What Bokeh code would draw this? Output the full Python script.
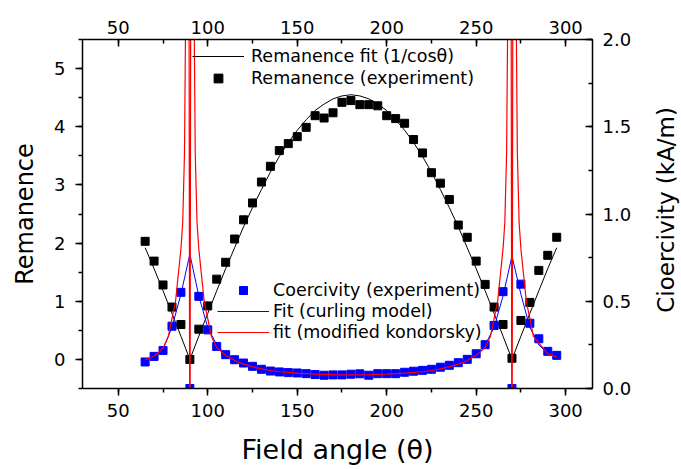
import math
from bokeh.plotting import figure
from bokeh.layouts import row
from bokeh.models import (Range1d, LinearAxis, SingleIntervalTicker, Legend,
                          LegendItem, PrintfTickFormatter)
from bokeh.core.properties import value
from bokeh.embed import file_html
from bokeh.resources import INLINE

# ---------------- data ----------------
angles = [65, 70, 75, 80, 85, 90, 95, 100, 105, 110, 115, 120, 125, 130, 135,
          140, 145, 150, 155, 160, 165, 170, 175, 180, 185, 190, 195, 200, 205,
          210, 215, 220, 225, 230, 235, 240, 245, 250, 255, 260, 265, 270, 275,
          280, 285, 290, 295]

remanence = [2.03, 1.69, 1.28, 0.90, 0.60, 0.00, 0.52, 0.92, 1.38, 1.67, 2.07,
             2.40, 2.69, 3.05, 3.32, 3.59, 3.71, 3.83, 3.99, 4.19, 4.15, 4.24,
             4.42, 4.45, 4.38, 4.38, 4.36, 4.19, 4.14, 4.06, 3.78, 3.55, 3.21,
             3.03, 2.75, 2.31, 2.10, 1.69, 1.29, 0.90, 0.60, 0.02, 0.67, 0.98,
             1.53, 1.79, 2.10]

remanence_fit = [1.92, 1.56, 1.18, 0.79, 0.40, 0.00, 0.40, 0.79, 1.18, 1.56,
                 1.92, 2.28, 2.61, 2.92, 3.22, 3.49, 3.73, 3.94, 4.12, 4.28,
                 4.39, 4.48, 4.53, 4.55, 4.53, 4.48, 4.39, 4.28, 4.12, 3.94,
                 3.73, 3.49, 3.22, 2.92, 2.61, 2.28, 1.92, 1.56, 1.18, 0.79,
                 0.40, 0.00, 0.40, 0.79, 1.18, 1.56, 1.92]

coercivity = [0.152, 0.184, 0.218, 0.357, 0.551, 0.0, 0.528, 0.336, 0.241,
              0.194, 0.165, 0.146, 0.127, 0.110, 0.100, 0.095, 0.091, 0.089,
              0.085, 0.080, 0.076, 0.078, 0.078, 0.082, 0.084, 0.076, 0.085,
              0.085, 0.085, 0.093, 0.099, 0.104, 0.110, 0.122, 0.133, 0.148,
              0.167, 0.199, 0.251, 0.361, 0.555, 0.0, 0.598, 0.374, 0.285,
              0.213, 0.190]

curling_fit = [0.165, 0.185, 0.225, 0.35, 0.54, 0.77, 0.53, 0.35, 0.25, 0.195,
               0.165, 0.145, 0.13, 0.115, 0.105, 0.097, 0.092, 0.088, 0.085,
               0.082, 0.08, 0.079, 0.078, 0.078, 0.078, 0.079, 0.08, 0.082,
               0.085, 0.088, 0.092, 0.097, 0.105, 0.115, 0.13, 0.145, 0.165,
               0.195, 0.25, 0.35, 0.53, 0.76, 0.54, 0.35, 0.25, 0.20, 0.175]

kondorsky_angles = [65, 70, 75, 78, 80, 82, 83, 84, 85, 86, 87, 88, 89, 90, 91,
                    92, 93, 94, 95, 96, 97, 98, 100, 102, 105, 110, 115, 120,
                    125, 130, 135, 140, 150, 160, 170, 180, 190, 200, 210, 220,
                    225, 230, 235, 240, 245, 250, 255, 258, 260, 262, 263, 264,
                    265, 266, 267, 268, 269, 270, 271, 272, 273, 274, 275, 276,
                    277, 278, 280, 282, 285, 290, 295]

kondorsky_fit = [0.165, 0.185, 0.23, 0.30, 0.40, 0.50, 0.60, 0.70, 0.80, 0.95,
                 1.35, 2.6, 6.0, -1.0, 6.0, 2.6, 1.35, 0.95, 0.80, 0.70, 0.60,
                 0.50, 0.40, 0.30, 0.235, 0.19, 0.16, 0.14, 0.125, 0.112, 0.103,
                 0.096, 0.088, 0.082, 0.079, 0.078, 0.079, 0.082, 0.088, 0.096,
                 0.103, 0.112, 0.125, 0.14, 0.16, 0.19, 0.235, 0.30, 0.40, 0.50,
                 0.60, 0.70, 0.80, 0.95, 1.35, 2.6, 6.0, -1.0, 6.0, 2.6, 1.35,
                 0.95, 0.80, 0.70, 0.60, 0.50, 0.40, 0.30, 0.26, 0.20, 0.18]

right_axis_title = ["Cioercivity (kA/m)"]

FONT = "DejaVu Sans"
H = 467

# ---------------- main figure ----------------
p = figure(width=650, height=H, output_backend="svg", toolbar_location=None,
           x_range=Range1d(30, 315), y_range=Range1d(-0.5, 5.5),
           min_border_left=82, min_border_right=58, min_border_top=39,
           min_border_bottom=77, background_fill_color="white",
           border_fill_color="white")
p.extra_y_ranges = {"coer": Range1d(0, 2.0)}
p.xgrid.visible = False
p.ygrid.visible = False
p.outline_line_color = None

# renderers
r_rem = p.scatter(angles, remanence, marker="square", size=8, color="black")
r_rem_fit = p.line(angles, remanence_fit, line_color="black", line_width=1)
r_coer = p.scatter(angles, coercivity, marker="square", size=8,
                   color="#0000ff", y_range_name="coer")
r_curl = p.line(angles, curling_fit, line_color="#0000ff", line_width=1,
                y_range_name="coer")
r_kond = p.line(kondorsky_angles, kondorsky_fit, line_color="#ff0000",
                line_width=1.2, y_range_name="coer")


def style_axis(ax, inward):
    ax.axis_line_color = "black"
    ax.axis_line_width = 1.5
    ax.major_tick_line_color = "black"
    ax.minor_tick_line_color = "black"
    ax.major_tick_line_width = 1.5
    ax.minor_tick_line_width = 1.5
    if inward:
        ax.major_tick_in, ax.major_tick_out = 7, 0
        ax.minor_tick_in, ax.minor_tick_out = 4, 0
    else:
        ax.major_tick_in, ax.major_tick_out = 0, 7
        ax.minor_tick_in, ax.minor_tick_out = 0, 4
    ax.major_label_text_font = FONT
    ax.major_label_text_font_size = "18px"
    ax.major_label_text_color = "black"
    ax.axis_label_text_font = FONT
    ax.axis_label_text_font_style = "normal"
    ax.axis_label_text_color = "black"


# bottom axis
xb = p.xaxis[0]
xb.ticker = SingleIntervalTicker(interval=50, num_minor_ticks=2)
xb.axis_label = "Field angle (θ)"
style_axis(xb, inward=False)
xb.axis_label_text_font_size = "27px"
xb.major_label_standoff = 8
xb.axis_label_standoff = 14

# left axis
yl = p.yaxis[0]
yl.ticker = SingleIntervalTicker(interval=1, num_minor_ticks=2)
yl.axis_label = "Remanence"
style_axis(yl, inward=False)
yl.axis_label_text_font_size = "24px"
yl.major_label_standoff = 10
yl.axis_label_standoff = 12

# top axis
xt = LinearAxis(ticker=SingleIntervalTicker(interval=50, num_minor_ticks=2))
style_axis(xt, inward=True)
xt.major_label_standoff = 6
p.add_layout(xt, "above")

# right axis (title drawn in the strip next to it, reading bottom-to-top)
yr = LinearAxis(y_range_name="coer",
                ticker=SingleIntervalTicker(interval=0.5, num_minor_ticks=2),
                formatter=PrintfTickFormatter(format="%.1f"))
style_axis(yr, inward=True)
yr.major_label_standoff = 10
p.add_layout(yr, "right")

# legends
common = dict(padding=0, margin=0, glyph_width=52,
              background_fill_alpha=0, border_line_alpha=0,
              label_text_font=FONT, label_text_font_size="17.5px",
              label_text_color="black")

leg1 = Legend(items=[LegendItem(label="Remanence fit (1/cosθ)", renderers=[r_rem_fit]),
                     LegendItem(label="Remanence (experiment)", renderers=[r_rem])],
              location=(110, 299), glyph_height=22, label_height=22,
              label_standoff=7, spacing=0, **common)
p.add_layout(leg1)

leg2 = Legend(items=[LegendItem(label="Coercivity (experiment)", renderers=[r_coer]),
                     LegendItem(label="Fit (curling model)", renderers=[r_curl]),
                     LegendItem(label="fit (modified kondorsky)", renderers=[r_kond])],
              location=(135, 46), glyph_height=20, label_height=20,
              label_standoff=4, spacing=1, **common)
p.add_layout(leg2)

# ---------------- strip holding the right axis title ----------------
t = figure(width=30, height=H, output_backend="svg", toolbar_location=None,
           x_range=Range1d(0, 1), y_range=Range1d(0, H),
           min_border_left=0, min_border_right=0, min_border_top=0,
           min_border_bottom=0, background_fill_color="white",
           border_fill_color="white")
t.axis.visible = False
t.grid.visible = False
t.outline_line_color = None
t.text(x=[0.5], y=[H - 228], text=right_axis_title, angle=math.pi / 2,
       text_align="center", text_baseline="middle",
       text_font=value(FONT), text_font_size="23px", text_color="black")

layout = row(p, t, spacing=0)
open("out.html", "w").write(file_html(layout, INLINE))
